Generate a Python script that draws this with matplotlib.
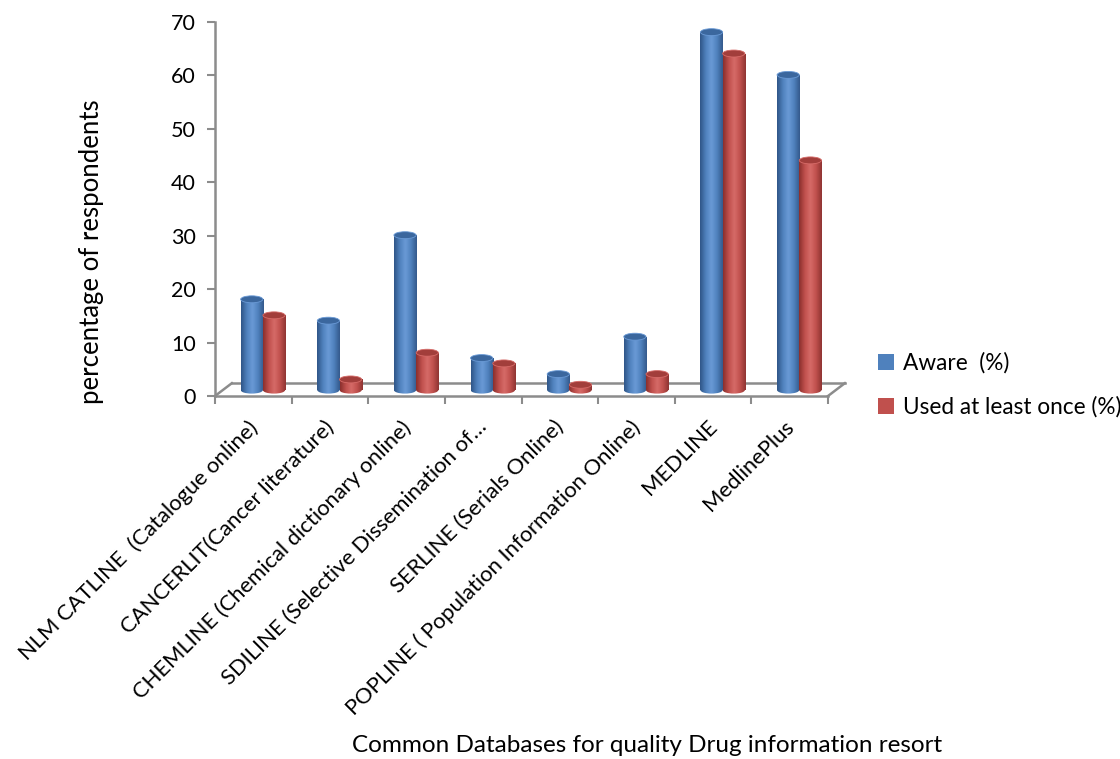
import numpy as np
import matplotlib
matplotlib.use("Agg")
import matplotlib.pyplot as plt
from matplotlib.patches import Ellipse, Patch
from matplotlib.colors import LinearSegmentedColormap

plt.rcParams["font.family"] = ["Lato", "DejaVu Sans"]

# data
categories = [
    "NLM CATLINE  (Catalogue online)",
    "CANCERLIT(Cancer literature)",
    "CHEMLINE (Chemical dictionary online)",
    "SDILINE (Selective Dissemination of\u2026",
    "SERLINE (Serials Online)",
    "POPLINE ( Population Information Online)",
    "MEDLINE",
    "MedlinePlus",
]
aware = [17, 13, 29, 6, 3, 10, 67, 59]
used = [14, 2, 7, 5, 1, 3, 63, 43]
series_names = ["Aware  (%)", "Used at least once (%)"]

BLUE = ["#2f5587", "#4f81bd", "#6a9ad6", "#4f81bd", "#34598c"]
RED = ["#8a2f2d", "#c0504d", "#d66b68", "#c0504d", "#8f3432"]
TOP_BLUE = "#3b679e"
TOP_RED = "#a23e3b"
AXIS_GRAY = "#8c8c8c"

fig = plt.figure(figsize=(11.2, 7.59), dpi=100)
ax = fig.add_axes([215 / 1120, 1 - 396 / 759, (828 - 215) / 1120, 374 / 759])
ax.set_xlim(-0.5, 7.5)
ax.set_ylim(0, 70)

x = np.arange(len(categories))
w = 0.29
depth_x, depth_y = 0.22, 2.4   # 3D floor offset
base = 1.1                     # bars sit in the middle of the floor
cap_h = 1.3                    # height of the ellipse caps in data units

grad = np.linspace(0, 1, 64).reshape(1, -1)


def cylinder(xc, val, cols, top_col):
    cmap = LinearSegmentedColormap.from_list("c", cols)
    bars = ax.bar([xc], [val], width=w, bottom=base, color="none", zorder=3)
    rect = bars[0]
    x0, x1 = xc - w / 2, xc + w / 2
    im = ax.imshow(grad, cmap=cmap, extent=[x0, x1, base, base + val],
                   aspect="auto", zorder=3, interpolation="bicubic")
    im.set_clip_path(rect)
    bot = Ellipse((xc, base), w, cap_h, facecolor="none", edgecolor="none", zorder=3)
    ax.add_patch(bot)
    im2 = ax.imshow(grad, cmap=cmap, extent=[x0, x1, base - cap_h, base + cap_h],
                    aspect="auto", zorder=3, interpolation="bicubic")
    im2.set_clip_path(bot)
    top = Ellipse((xc, base + val), w, cap_h, facecolor=top_col,
                  edgecolor=cols[2], linewidth=0.6, zorder=4)
    ax.add_patch(top)


for i in range(len(categories)):
    cylinder(x[i] - 0.02, aware[i], BLUE, TOP_BLUE)
    cylinder(x[i] + 0.27, used[i], RED, TOP_RED)

ax.set_xlim(-0.5, 7.5)
ax.set_ylim(0, 70)

# floor outline
ax.plot([-0.5, -0.5 + depth_x], [0, depth_y], color=AXIS_GRAY, lw=1.8, clip_on=False, zorder=2)
ax.plot([-0.5 + depth_x, 7.5 + depth_x], [depth_y, depth_y], color=AXIS_GRAY, lw=1.8,
        clip_on=False, zorder=2)
ax.plot([7.5, 7.5 + depth_x], [0, depth_y], color=AXIS_GRAY, lw=1.8, clip_on=False, zorder=2)

for s in ["top", "right"]:
    ax.spines[s].set_visible(False)
for s in ["left", "bottom"]:
    ax.spines[s].set_color(AXIS_GRAY)
    ax.spines[s].set_linewidth(1.8)
    ax.spines[s].set_zorder(5)

ax.set_yticks(range(0, 71, 10))
ax.tick_params(axis="y", length=6, width=1.5, color=AXIS_GRAY, labelsize=15.5, pad=8)
ax.set_xticks(np.arange(-0.5, 8, 1))
ax.set_xticklabels([])
ax.tick_params(axis="x", length=6, width=1.5, color=AXIS_GRAY)

for i, lab in enumerate(categories):
    ax.annotate(lab, xy=(x[i] - 0.08, 0), xytext=(0, -15), textcoords="offset points",
                ha="right", va="top", rotation=45, rotation_mode="anchor", fontsize=15.8)

fig.text(92 / 1120, 1 - 252 / 759, "percentage of respondents", rotation=90,
         ha="center", va="center", fontsize=18.5)
fig.text(647 / 1120, 1 - 745 / 759, "Common Databases for quality Drug information resort",
         ha="center", va="center", fontsize=17.5)

handles = [Patch(facecolor="#4f81bd"), Patch(facecolor="#c0504d")]
fig.legend(handles, series_names, loc="center left", frameon=False,
           bbox_to_anchor=(858 / 1120, 1 - 385 / 759), fontsize=16.3,
           handlelength=0.7, handleheight=0.7, handletextpad=0.4, labelspacing=1.0)

fig.savefig("out.png", dpi=100)
